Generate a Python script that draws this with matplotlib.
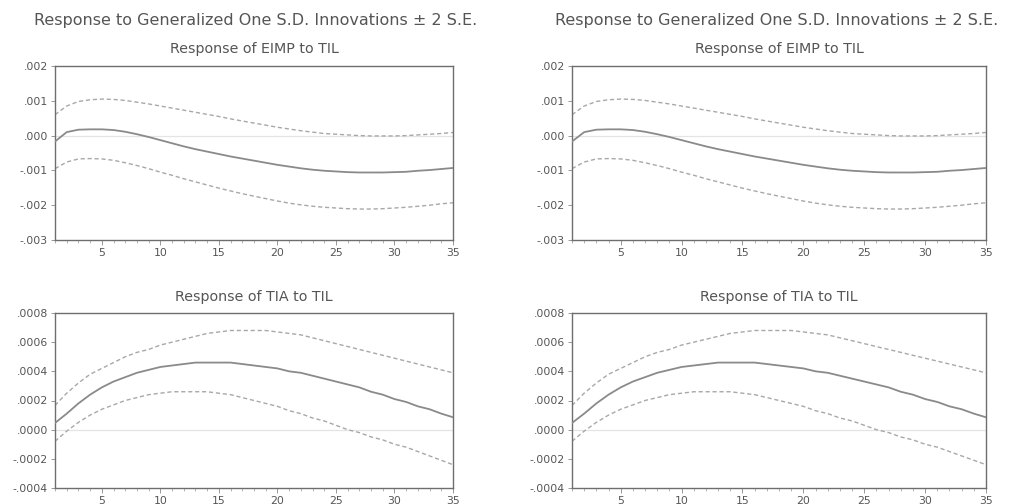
import matplotlib.pyplot as plt
import matplotlib.ticker as mticker
import numpy as np

plt.rcParams['font.family'] = ['DejaVu Sans']

periods = np.arange(1, 36)

eimp_mid = [-0.00017, 0.00010, 0.00017, 0.00018, 0.00018, 0.00016, 0.00011, 0.00004, -0.00004, -0.00013,
            -0.00022, -0.00031, -0.00039, -0.00046, -0.00053, -0.00060, -0.00066, -0.00072, -0.00078, -0.00084,
            -0.00089, -0.00094, -0.00098, -0.00101, -0.00103, -0.00105, -0.00106, -0.00106, -0.00106, -0.00105,
            -0.00104, -0.00101, -0.00099, -0.00096, -0.00093]
eimp_up = [0.00060, 0.00085, 0.00098, 0.00103, 0.00105, 0.00104, 0.00101, 0.00096, 0.00091, 0.00085,
           0.00079, 0.00073, 0.00067, 0.00061, 0.00055, 0.00048, 0.00042, 0.00036, 0.00030, 0.00024,
           0.00019, 0.00014, 0.00010, 0.00006, 0.00004, 0.00002, 0.00000, -0.00001, -0.00001, -0.00001,
           0.00000, 0.00002, 0.00004, 0.00006, 0.00009]
eimp_lo = [-0.00095, -0.00076, -0.00067, -0.00066, -0.00067, -0.00071, -0.00078, -0.00086, -0.00095, -0.00105,
           -0.00114, -0.00124, -0.00133, -0.00142, -0.00151, -0.00159, -0.00167, -0.00174, -0.00181, -0.00188,
           -0.00194, -0.00199, -0.00203, -0.00206, -0.00208, -0.00210, -0.00211, -0.00211, -0.00210, -0.00208,
           -0.00206, -0.00203, -0.00200, -0.00196, -0.00193]

tia_mid = [0.000046, 0.00011, 0.00018, 0.00024, 0.00029, 0.00033, 0.00036, 0.00039, 0.00041, 0.00043,
           0.00044, 0.00045, 0.00046, 0.00046, 0.00046, 0.00046, 0.00045, 0.00044, 0.00043, 0.00042,
           0.00040, 0.00039, 0.00037, 0.00035, 0.00033, 0.00031, 0.00029, 0.00026, 0.00024, 0.00021,
           0.00019, 0.00016, 0.00014, 0.00011, 0.000085]
tia_up = [0.000166, 0.00025, 0.00032, 0.00038, 0.00042, 0.00046, 0.00050, 0.00053, 0.00055, 0.00058,
          0.00060, 0.00062, 0.00064, 0.00066, 0.00067, 0.00068, 0.00068, 0.00068, 0.00068, 0.00067,
          0.00066, 0.00065, 0.00063, 0.00061, 0.00059, 0.00057, 0.00055, 0.00053, 0.00051, 0.00049,
          0.00047, 0.00045, 0.00043, 0.00041, 0.00039]
tia_lo = [-0.00008, -0.00001, 0.00005, 0.00010, 0.00014, 0.00017, 0.00020, 0.00022, 0.00024, 0.00025,
          0.00026, 0.00026, 0.00026, 0.00026, 0.00025, 0.00024, 0.00022, 0.00020, 0.00018, 0.00016,
          0.00013, 0.00011, 0.00008, 0.00006, 0.00003, 0.00000, -0.00002, -0.00005, -0.00007, -0.00010,
          -0.00012, -0.00015, -0.00018, -0.00021, -0.00024]

eimp_ticks = [-0.003, -0.002, -0.001, 0.0, 0.001, 0.002]
tia_ticks = [-0.0004, -0.0002, 0.0, 0.0002, 0.0004, 0.0006, 0.0008]

main_title = "Response to Generalized One S.D. Innovations \u00b1 2 S.E."


def fmt(decimals):
    def f(v, pos):
        s = f"{v:.{decimals}f}"
        return s.replace("0.", ".", 1)
    return mticker.FuncFormatter(f)


def panel(ax, mid, up, lo, ticks, decimals, title):
    ax.axhline(0, color="#e4e4e4", lw=0.9, zorder=1)
    ax.plot(periods, up, color="#a8a8a8", lw=1.0, ls=(0, (3, 2)), zorder=2)
    ax.plot(periods, lo, color="#a8a8a8", lw=1.0, ls=(0, (3, 2)), zorder=2)
    ax.plot(periods, mid, color="#8a8a8a", lw=1.3, zorder=3)
    ax.set_xlim(1, 35)
    ax.set_ylim(ticks[0], ticks[-1])
    ax.set_yticks(ticks)
    ax.yaxis.set_major_formatter(fmt(decimals))
    ax.set_xticks([5, 10, 15, 20, 25, 30, 35])
    ax.set_xticks(periods, minor=True)
    ax.tick_params(axis="x", which="major", direction="out", length=3.5, width=0.6,
                   colors="#888888", labelsize=7.8, labelcolor="#555555", pad=2)
    ax.tick_params(axis="x", which="minor", direction="out", length=2, width=0.5,
                   colors="#999999")
    ax.tick_params(axis="y", direction="out", length=3, width=0.6,
                   colors="#888888", labelsize=7.8, labelcolor="#555555", pad=2)
    for sp in ax.spines.values():
        sp.set_color("#6e6e6e")
        sp.set_linewidth(1.0)
    ax.set_title(title, fontsize=10.3, color="#555555", pad=9)


fig = plt.figure(figsize=(10.21, 5.04), dpi=100)

lefts = [55 / 1021, 572 / 1021]
widths = [398 / 1021, 414 / 1021]
for left, width, cx in zip(lefts, widths, [0.25, 0.761]):
    ax1 = fig.add_axes([left, 1 - 240 / 504, width, 174 / 504])
    panel(ax1, eimp_mid, eimp_up, eimp_lo, eimp_ticks, 3, "Response of EIMP to TIL")
    ax2 = fig.add_axes([left, 1 - 488 / 504, width, 175 / 504])
    panel(ax2, tia_mid, tia_up, tia_lo, tia_ticks, 4, "Response of TIA to TIL")
    fig.text(cx, 1 - 20 / 504, main_title, ha="center", va="center",
             fontsize=11.5, color="#555555")

fig.savefig("out.png", dpi=100, facecolor="white")
